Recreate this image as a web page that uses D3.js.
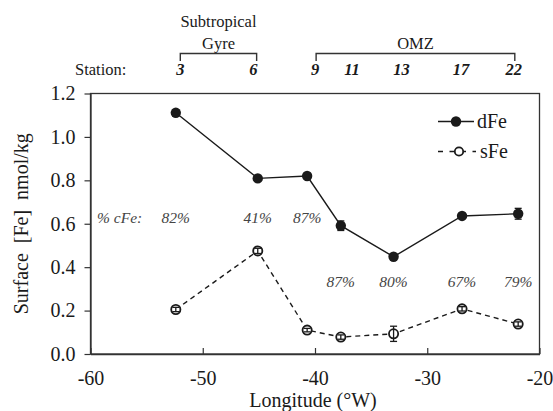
<!DOCTYPE html>
<html><head><meta charset="utf-8">
<script src="https://cdn.jsdelivr.net/npm/d3@7/dist/d3.min.js"></script>
<style>body{margin:0;background:#fff}svg{display:block}</style>
</head><body><svg id="c" width="553" height="411"></svg>
<script>
const stations = ["3","6","9","11","13","17","22"];
const longitude = [-52.4, -45.1, -40.7, -37.7, -33.0, -26.9, -21.9];
const stationLabelLon = [-52.0, -45.5, -40.0, -36.7, -32.3, -27.0, -22.3];
const dFe = [1.111, 0.809, 0.820, 0.591, 0.448, 0.636, 0.646];
const dFeErr = [0.015, 0.008, 0.008, 0.022, 0.008, 0.008, 0.025];
const sFe = [0.205, 0.475, 0.110, 0.078, 0.093, 0.208, 0.138];
const sFeErr = [0.010, 0.012, 0.008, 0.010, 0.035, 0.010, 0.010];
const cFe = ["82%","41%","87%","87%","80%","67%","79%"];
const cFeRow = [0,0,0,1,1,1,1];
const xTicks = [-60,-50,-40,-30,-20];
const yTicks = [0,0.2,0.4,0.6,0.8,1.0,1.2];
const groups = [{name:["Subtropical","Gyre"], from:-52.0, to:-45.2},{name:["OMZ"], from:-39.9, to:-22.2}];

const FONT = '"Liberation Serif"';
const svg = d3.select("#c");
const L=90.5, R=539.5, T=93.5, B=354;
const x = d3.scaleLinear().domain([-60,-20]).range([L,R]);
const y = d3.scaleLinear().domain([0,1.2]).range([B,T]);
const ink="#1a1a1a";

// frame
svg.append("rect").attr("x",L).attr("y",T).attr("width",R-L).attr("height",B-T)
  .attr("fill","none").attr("stroke","#333").attr("stroke-width",1.3);

// axes
const ya = svg.append("g").attr("transform",`translate(${L},0)`)
  .call(d3.axisLeft(y).tickValues(yTicks).tickFormat(d3.format(".1f")).tickSizeOuter(0).tickSizeInner(6).tickPadding(9));
const xa = svg.append("g").attr("transform",`translate(0,${B})`)
  .call(d3.axisBottom(x).tickValues(xTicks).tickFormat(d=>d).tickSizeOuter(0).tickSizeInner(-6).tickPadding(17));
[ya,xa].forEach(g=>{
  g.select(".domain").attr("stroke","#333").attr("stroke-width",1.3);
  g.selectAll(".tick line").attr("stroke","#333").attr("stroke-width",1.2);
  g.selectAll("text").attr("font-size",20).attr("fill",ink);
});
xa.selectAll(".tick text").attr("dy","0.71em");

svg.append("text").attr("x",(L+R)/2 - 2).attr("y",407).attr("text-anchor","middle")
  .attr("font-size",20).attr("fill",ink).text("Longitude (°W)");
svg.append("text").attr("transform",`translate(28,${(T+B)/2}) rotate(-90)`).attr("text-anchor","middle")
  .attr("font-size",20).attr("fill",ink).style("white-space","pre").text("Surface  [Fe]  nmol/kg");

// lines
const pts = (arr)=>arr.map((v,i)=>[x(longitude[i]),y(v)]);
svg.append("path").attr("d",d3.line()(pts(dFe))).attr("fill","none").attr("stroke",ink).attr("stroke-width",1.4);
svg.append("path").attr("d",d3.line()(pts(sFe))).attr("fill","none").attr("stroke",ink).attr("stroke-width",1.4).attr("stroke-dasharray","5,4");

function errBars(vals, errs){
  const g = svg.append("g").attr("stroke",ink).attr("stroke-width",1.3);
  vals.forEach((v,i)=>{
    const cx=x(longitude[i]);
    g.append("line").attr("x1",cx).attr("x2",cx).attr("y1",y(v-errs[i])).attr("y2",y(v+errs[i]));
    [v-errs[i],v+errs[i]].forEach(e=>g.append("line").attr("x1",cx-3.5).attr("x2",cx+3.5).attr("y1",y(e)).attr("y2",y(e)));
  });
}
errBars(dFe,dFeErr);
svg.append("g").selectAll("circle").data(dFe).join("circle")
  .attr("cx",(d,i)=>x(longitude[i])).attr("cy",d=>y(d)).attr("r",5.2).attr("fill",ink);
svg.append("g").selectAll("circle").data(sFe).join("circle")
  .attr("cx",(d,i)=>x(longitude[i])).attr("cy",d=>y(d)).attr("r",4.6).attr("fill","#fff").attr("stroke",ink).attr("stroke-width",1.8);
errBars(sFe,sFeErr);

// % cFe labels
svg.append("text").attr("x",97).attr("y",223).attr("font-size",15.5).attr("font-style","italic").attr("fill","#444").text("% cFe:");
svg.append("g").selectAll("text").data(cFe).join("text")
  .attr("x",(d,i)=>x(longitude[i])).attr("y",(d,i)=>cFeRow[i]?287:223).attr("text-anchor","middle")
  .attr("font-size",15.5).attr("font-style","italic").attr("fill","#444").text(d=>d);

// stations
svg.append("text").attr("x",75).attr("y",75).attr("font-size",16.5).attr("fill",ink).text("Station:");
svg.append("g").selectAll("text").data(stations).join("text")
  .attr("x",(d,i)=>x(stationLabelLon[i])).attr("y",75).attr("text-anchor","middle")
  .attr("font-size",16.5).attr("font-style","italic").attr("font-weight","bold").attr("fill",ink).text(d=>d);

// brackets
groups.forEach(gp=>{
  const x1=x(gp.from), x2=x(gp.to);
  svg.append("path").attr("d",`M${x1},${61}V${53.5}H${x2}V${61}`).attr("fill","none").attr("stroke","#333").attr("stroke-width",1.4);
  const cx=(x1+x2)/2;
  gp.name.forEach((n,k)=>{
    svg.append("text").attr("x",cx).attr("y",49-(gp.name.length-1-k)*22).attr("text-anchor","middle")
      .attr("font-size",16.5).attr("fill",ink).text(n);
  });
});

// legend
const lg = svg.append("g");
lg.append("line").attr("x1",438).attr("x2",474).attr("y1",121.5).attr("y2",121.5).attr("stroke",ink).attr("stroke-width",1.4);
lg.append("circle").attr("cx",456).attr("cy",121.5).attr("r",5.2).attr("fill",ink);
lg.append("text").attr("x",477).attr("y",128).attr("font-size",20).attr("fill",ink).text("dFe");
lg.append("line").attr("x1",438).attr("x2",476).attr("y1",151.5).attr("y2",151.5).attr("stroke",ink).attr("stroke-width",1.4).attr("stroke-dasharray","5,6.5");
lg.append("circle").attr("cx",459).attr("cy",151.5).attr("r",4.2).attr("fill","#fff").attr("stroke",ink).attr("stroke-width",1.8);
lg.append("text").attr("x",480).attr("y",158).attr("font-size",20).attr("fill",ink).text("sFe");

// apply serif font to every text
svg.selectAll("g").attr("font-family",null);
svg.selectAll("text").style("font-family",FONT);
</script></body></html>
